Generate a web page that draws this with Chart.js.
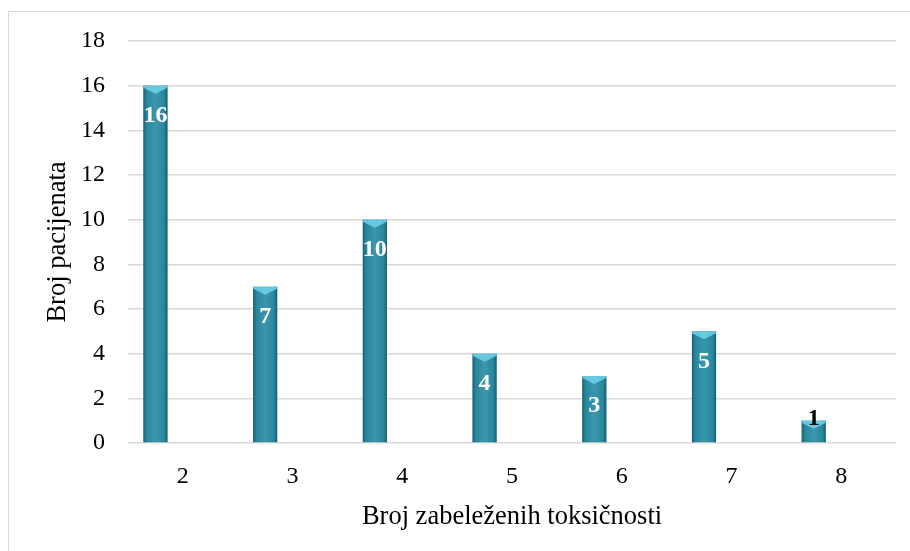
<!DOCTYPE html>
<html>
<head>
<meta charset="utf-8">
<script src="https://cdn.jsdelivr.net/npm/chart.js@4.4.1/dist/chart.umd.min.js"></script>
<style>
  body { margin: 0; background: #fff; }
  #frame { position: absolute; left: 8px; top: 11px; width: 920px; height: 560px;
           border-top: 1.5px solid #d9d9d9; border-left: 1.5px solid #d9d9d9; }
  #wrap { position: absolute; left: 0; top: 0; width: 910px; height: 551px; }
</style>
</head>
<body>
<div id="frame"></div>
<div id="wrap"><canvas id="barChart"></canvas></div>
<script>
// podaci sa slike
var kategorije = ["2", "3", "4", "5", "6", "7", "8"];
var pacijenti = [16, 7, 10, 4, 3, 5, 1];
var prazno = [];

var serif = "'Liberation Serif', 'Times New Roman', serif";

// sjenčenje stubaca + oznake vrijednosti
var stubciPlugin = {
  id: 'stubci',
  afterDatasetsDraw: function(chart) {
    var ctx = chart.ctx;
    var meta = chart.getDatasetMeta(0);
    meta.data.forEach(function(bar, i) {
      var l = bar.x - bar.width / 2, r = bar.x + bar.width / 2;
      var t = bar.y, b = bar.base;
      ctx.save();
      var g = ctx.createLinearGradient(l, 0, r, 0);
      g.addColorStop(0, 'rgba(10,50,65,0.5)');
      g.addColorStop(0.14, 'rgba(10,50,65,0.08)');
      g.addColorStop(0.5, 'rgba(255,255,255,0.08)');
      g.addColorStop(0.86, 'rgba(10,50,65,0.08)');
      g.addColorStop(1, 'rgba(10,50,65,0.55)');
      ctx.fillStyle = g;
      ctx.fillRect(l, t, r - l, b - t);
      // svijetla kapa na vrhu
      ctx.beginPath();
      ctx.moveTo(l, t);
      ctx.lineTo(r, t);
      ctx.lineTo(r, t + 2);
      ctx.lineTo(bar.x, t + 8);
      ctx.lineTo(l, t + 2);
      ctx.closePath();
      ctx.fillStyle = 'rgba(110,210,235,0.85)';
      ctx.fill();
      // oznaka
      ctx.font = 'bold 24px ' + serif;
      ctx.textAlign = 'center';
      ctx.textBaseline = 'middle';
      if (b - t > 40) {
        ctx.fillStyle = '#ffffff';
        ctx.fillText(String(pacijenti[i]), bar.x, t + 30);
      } else {
        ctx.fillStyle = '#000000';
        ctx.fillText(String(pacijenti[i]), bar.x, t - 2);
      }
      ctx.restore();
    });
  }
};

new Chart(document.getElementById("barChart"), {
  type: 'bar',
  data: {
    labels: kategorije,
    datasets: [
      {
        data: pacijenti,
        backgroundColor: '#2b8ea5',
        categoryPercentage: 1.0,
        barPercentage: 0.44
      },
      {
        data: prazno,
        backgroundColor: '#2b8ea5',
        categoryPercentage: 1.0,
        barPercentage: 0.44
      }
    ]
  },
  options: {
    responsive: true,
    maintainAspectRatio: false,
    animation: false,
    layout: { padding: { top: 41, right: 14, left: 0, bottom: 0 } },
    plugins: {
      legend: { display: false },
      tooltip: { enabled: false }
    },
    scales: {
      x: {
        grid: { display: false },
        border: { display: false },
        ticks: { color: '#000', font: { family: serif, size: 24 }, padding: 11 },
        title: {
          display: true,
          text: 'Broj zabeleženih toksičnosti',
          color: '#000',
          font: { family: serif, size: 26.5 },
          padding: { top: 0, bottom: 18 }
        },
        afterFit: function(s) { s.height = 108; }
      },
      y: {
        min: 0,
        max: 18,
        ticks: { stepSize: 2, color: '#000', font: { family: serif, size: 24 }, padding: 23 },
        grid: { color: '#d9d9d9', lineWidth: 1.5, drawTicks: false },
        border: { display: false },
        title: {
          display: true,
          text: 'Broj pacijenata',
          color: '#000',
          font: { family: serif, size: 26.5 },
          padding: { top: 42, bottom: 0 }
        },
        afterFit: function(s) { s.width = 128; }
      }
    }
  },
  plugins: [stubciPlugin]
});
</script>
</body>
</html>
